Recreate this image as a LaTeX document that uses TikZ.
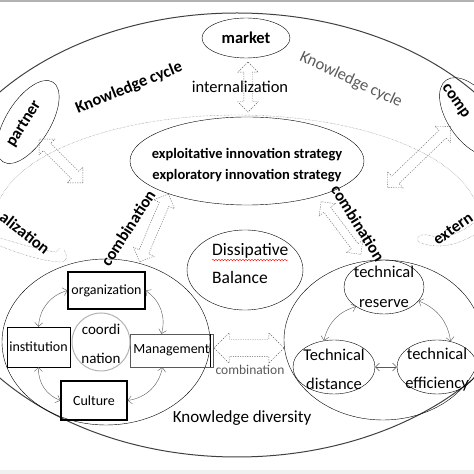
\documentclass[tikz,border=0pt]{standalone}
\usepackage{fontspec}
\setmainfont{Carlito}
\usetikzlibrary{shapes.geometric,shapes.arrows,arrows.meta,decorations.pathmorphing}

\newcommand{\bigtxt}{\fontsize{16.5}{20}\selectfont}
\newcommand{\boxtxt}{\fontsize{14}{17}\selectfont}
\newcommand{\techtxt}{\fontsize{16.5}{29.5}\selectfont}

\tikzset{
  bubble/.style={draw, ellipse, inner sep=0pt},
  boxy/.style={draw, rectangle, inner sep=0pt, font=\boxtxt},
  hollow/.style={double arrow, draw=gray!75!black, dash pattern=on 1.2pt off 1.2pt, inner xsep=0pt, inner ysep=5pt, double arrow head extend=6pt},
  cyc/.style={draw=gray!70!black, {Straight Barb[length=4pt,width=8pt]}-{Straight Barb[length=4pt,width=8pt]}},
  band/.style={draw=gray!80!black, densely dotted}
}

\begin{document}
\begin{tikzpicture}[x=1pt, y=1pt]

\useasboundingbox (0,0) rectangle (474,474);
\clip (0,0) rectangle (474,474);
\fill[gray!60] (0,472) rectangle (474,474);
\fill[gray!12] (0,0) rectangle (474,4);

% outer cycle
\draw[line width=1pt, black!75] (237,239) ellipse [x radius=310, y radius=222];
\draw[band] (0.3,275.8) arc[start angle=168, end angle=12, x radius=242, y radius=105];
\draw[band] (0,236) .. controls (20,230) and (40,224) .. (56,222) -- (60,226);
\draw[band] (0,228) .. controls (20,220) and (45,212) .. (62,212) .. controls (67,213) and (68,218) .. (64,224);
\draw[band] (474,251) .. controls (458,240) and (445,234) .. (428,239) .. controls (416,241) and (414,232) .. (424,230) .. controls (440,226) and (455,228) .. (474,239);

% actors
\node[bubble, minimum width=88pt, minimum height=40pt, font=\bigtxt\bfseries] (market) at (246,436) {market};
\node[bubble, rotate=58, minimum width=94pt, minimum height=44pt] (partner) at (28,352) {};
\node[font=\bigtxt\bfseries, rotate=58] (partnertxt) at (24,350) {partner};
\node[bubble, rotate=-55, minimum width=90pt, minimum height=48pt] (comp) at (472,357) {};
\node[font=\bigtxt\bfseries, rotate=-55, anchor=west, inner sep=0pt] (comptxt) at (444,388) {comp};

% strategy
\node[bubble, minimum width=234pt, minimum height=88pt] (strat) at (247,313) {};
\node[font=\fontsize{14.5}{21}\selectfont\bfseries, align=center] (strattxt) at (247,309) {exploitative innovation strategy\\exploratory innovation strategy};

\node[bubble, minimum width=116pt, minimum height=80pt] (diss) at (245,204) {};
\node[font=\fontsize{17.5}{28}\selectfont, align=left, anchor=west, inner sep=0pt] (disstxt) at (212,210) {Dissipative\\Balance};
\draw[red, decorate, decoration={snake, amplitude=0.8pt, segment length=3pt}] (212,214) -- (288,214);

% knowledge flows
\node[hollow, minimum height=50pt, inner ysep=4pt, rotate=90] (intarr) at (248,387) {};
\node[hollow, minimum height=62pt, rotate=-45] (partarr) at (61,313) {};
\node[hollow, minimum height=88pt, rotate=44] (comparr) at (419,317) {};
\node[hollow, minimum height=74pt, rotate=67] (lcomb) at (154,246) {};
\node[hollow, minimum height=66pt, inner ysep=4pt, rotate=-53] (rcomb) at (341,246) {};
\node[hollow, minimum height=70pt, inner ysep=8.5pt, double arrow head extend=6.5pt] (bcomb) at (249,126) {};

\node[font=\bigtxt] (intl) at (240,387) {internalization};
\node[font=\bigtxt\bfseries, rotate=22] (kcl) at (129,386) {Knowledge cycle};
\node[font=\bigtxt, text=gray!70!black, rotate=-25] (kcr) at (351,394) {Knowledge cycle};
\node[font=\bigtxt\bfseries, rotate=57] (combl) at (128,246) {combination};
\node[font=\bigtxt\bfseries, rotate=-58] (combr) at (358,251) {combination};
\node[font=\fontsize{13.5}{16}\selectfont, text=gray!70!black] (combb) at (250,104) {combination};
\node[font=\bigtxt\bfseries, rotate=-38, inner sep=0pt] (extl) at (25,241) {alization};
\node[font=\bigtxt\bfseries, rotate=35, inner sep=0pt] (extr) at (453,245) {extern};
\node[font=\fontsize{17}{20}\selectfont] (kdiv) at (242,56) {Knowledge diversity};

% coordination
\node[bubble, minimum width=208pt, minimum height=166pt] (left) at (106,132) {};
\node[boxy, line width=1.2pt, minimum width=77pt, minimum height=37pt] (org) at (106.5,183.5) {organization};
\node[boxy, minimum width=63pt, minimum height=40pt] (inst) at (38.5,127) {institution};
\node[boxy, draw=gray!70!black, minimum width=83pt, minimum height=33pt] (mgmt) at (171.5,123.5) {Management};
\draw[line width=0.8pt] ([xshift=-2.5pt]mgmt.north east) -- ([xshift=-2.5pt]mgmt.south east);
\node[boxy, line width=1.2pt, minimum width=66pt, minimum height=39pt] (cult) at (94,73.5) {Culture};
\node[circle, draw=gray!60, line width=1pt, minimum size=58pt] (coord) at (101,132) {};
\node[font=\fontsize{15}{29}\selectfont, align=center] (coordtxt) at (101,130) {coordi\\nation};

\draw[cyc] (inst.north) to[bend left=35] (org.west);
\draw[cyc] (org.east) to[bend left=35] ([xshift=-10pt]mgmt.north);
\draw[cyc] ([xshift=-9pt]mgmt.south) to[bend left=35] (cult.east);
\draw[cyc] (cult.west) to[bend left=35] (inst.south);

% technology
\node[bubble, minimum width=198pt, minimum height=160pt] (right) at (383,134) {};
\node[bubble, minimum width=80pt, minimum height=54pt] (res) at (384,187) {};
\node[font=\techtxt, align=center] (restxt) at (384,187) {technical\\reserve};
\node[bubble, minimum width=82pt, minimum height=54pt] (dist) at (334,107) {};
\node[font=\techtxt, align=center] (disttxt) at (334,104.5) {Technical\\distance};
\node[bubble, minimum width=80pt, minimum height=54pt] (eff) at (437,107) {};
\node[font=\techtxt, align=center] (efftxt) at (437,104.5) {technical\\efficiency};

\draw[cyc] (res.215) to[bend right=30] (dist.111);
\draw[cyc] (res.-22) to[bend left=30] (eff.62);
\draw[cyc] (dist.east) -- (eff.west);

\end{tikzpicture}
\end{document}
